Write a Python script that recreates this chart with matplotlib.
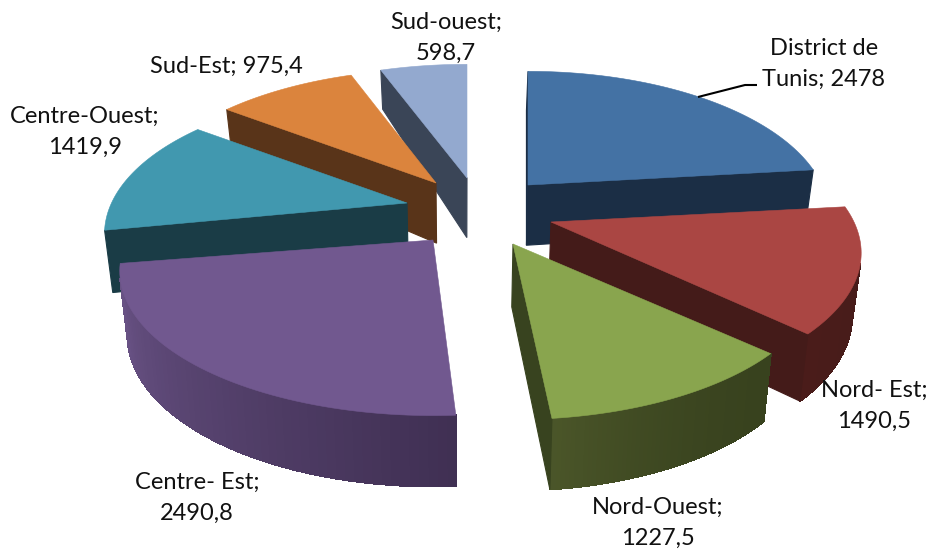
import numpy as np
import matplotlib
matplotlib.use("Agg")
import matplotlib.pyplot as plt
from matplotlib.colors import to_rgb
from matplotlib.patches import Polygon

regions = ["District de Tunis", "Nord- Est", "Nord-Ouest", "Centre- Est",
           "Centre-Ouest", "Sud-Est", "Sud-ouest"]
values = [2478, 1490.5, 1227.5, 2490.8, 1419.9, 975.4, 598.7]

# ---- styling / layout ----
FACE = ["#4472A4", "#AA4643", "#89A54E", "#71588F", "#4198AF", "#DB843D", "#93A9CF"]
RADIAL = ["#1B2E45", "#441B19", "#38431F", "#3F2F52", "#1A3C46", "#593419", "#3A4557"]
RIM = [("#1B2E45", "#1B2E45"), ("#441B19", "#4A1C1A"), ("#38421E", "#4B5629"),
       ("#3F2F52", "#6C5589"), ("#1A3C46", "#1A3C46"), ("#593419", "#593419"),
       ("#3A4557", "#3A4557")]
RIM_POWER = [1, 1, 2, 1, 1, 1, 1]
APEX = [(528, 185), (551, 222), (513, 244), (433, 240), (407, 203), (436, 183), (467, 178)]
SCALE = [0.98, 1.01, 1.0, 1.02, 0.985, 0.985, 1.0]
TWIST = [0, 0, -1, 1.5, 0, 0, 0]
DRAW_ORDER = [6, 5, 0, 4, 1, 3, 2]
LABEL_POS = [(824, 64), (874, 406), (658, 523), (197, 498), (85, 132), (226, 66), (446, 38)]
LABEL_ONE_LINE = {5}
LABEL_BREAK = {0: "District de\nTunis; {}"}
RX, RY, K = 300.0, 138.0, 0.214
VP_X, SHRINK = 460.0, 0.977


def fmt(v):
    return f"{v:g}".replace(".", ",")


def project(apex, ang, scale):
    u, v = np.sin(ang), np.cos(ang)
    den = 1 + K * v
    return apex[0] + scale * RX * u / den, apex[1] - RY * v / den


def drop(p):
    depth = np.interp(p[1], [70, 180, 420], [39, 60, 71])
    return VP_X + (p[0] - VP_X) * SHRINK, p[1] + depth


def signed_area(q):
    x = np.array([a[0] for a in q])
    y = np.array([a[1] for a in q])
    return 0.5 * np.sum(x * np.roll(y, -1) - np.roll(x, -1) * y)


fig = plt.figure(figsize=(9.29, 5.49), dpi=100)
ax = fig.add_axes([0, 0, 1, 1])
ax.set_xlim(0, 929)
ax.set_ylim(549, 0)
ax.axis("off")

vals = np.array(values, dtype=float)
edges = np.concatenate([[0], np.cumsum(vals) / vals.sum() * 2 * np.pi])

for i in DRAW_ORDER:
    apex = APEX[i]
    tw = np.deg2rad(TWIST[i])
    angs = np.linspace(edges[i] + tw, edges[i + 1] + tw, 60)
    arc = [project(apex, a, SCALE[i]) for a in angs]
    outline = [apex] + arc
    # walls: keep only those turned towards the viewer
    c0, c1 = np.array(to_rgb(RIM[i][0])), np.array(to_rgb(RIM[i][1]))
    n = len(outline)
    for j in range(n):
        a, b = outline[j], outline[(j + 1) % n]
        quad = [a, b, drop(b), drop(a)]
        if signed_area(quad) >= 0:
            continue
        if j == 0 or j == n - 1:
            col = RADIAL[i]
            aa = True
        else:
            col = tuple(c0 + (c1 - c0) * (j / (n - 1)) ** RIM_POWER[i])
            aa = False
        ax.add_patch(Polygon(quad, closed=True, facecolor=col, edgecolor=col,
                             lw=0.8, antialiased=aa))
    ax.add_patch(Polygon(outline, closed=True, facecolor=FACE[i], edgecolor=FACE[i], lw=0.4))

# leader line of the first label
ax.plot([698, 745, 757], [97, 85, 85], color="black", lw=1.5, solid_capstyle="butt")

for i, (name, val) in enumerate(zip(regions, values)):
    if i in LABEL_BREAK:
        txt = LABEL_BREAK[i].format(fmt(val))
    elif i in LABEL_ONE_LINE:
        txt = f"{name}; {fmt(val)}"
    else:
        txt = f"{name};\n{fmt(val)}"
    ax.text(*LABEL_POS[i], txt, ha="center", va="center", fontsize=17,
            family="Lato", color="#111111", linespacing=1.55)

fig.savefig("out.png", dpi=100)
